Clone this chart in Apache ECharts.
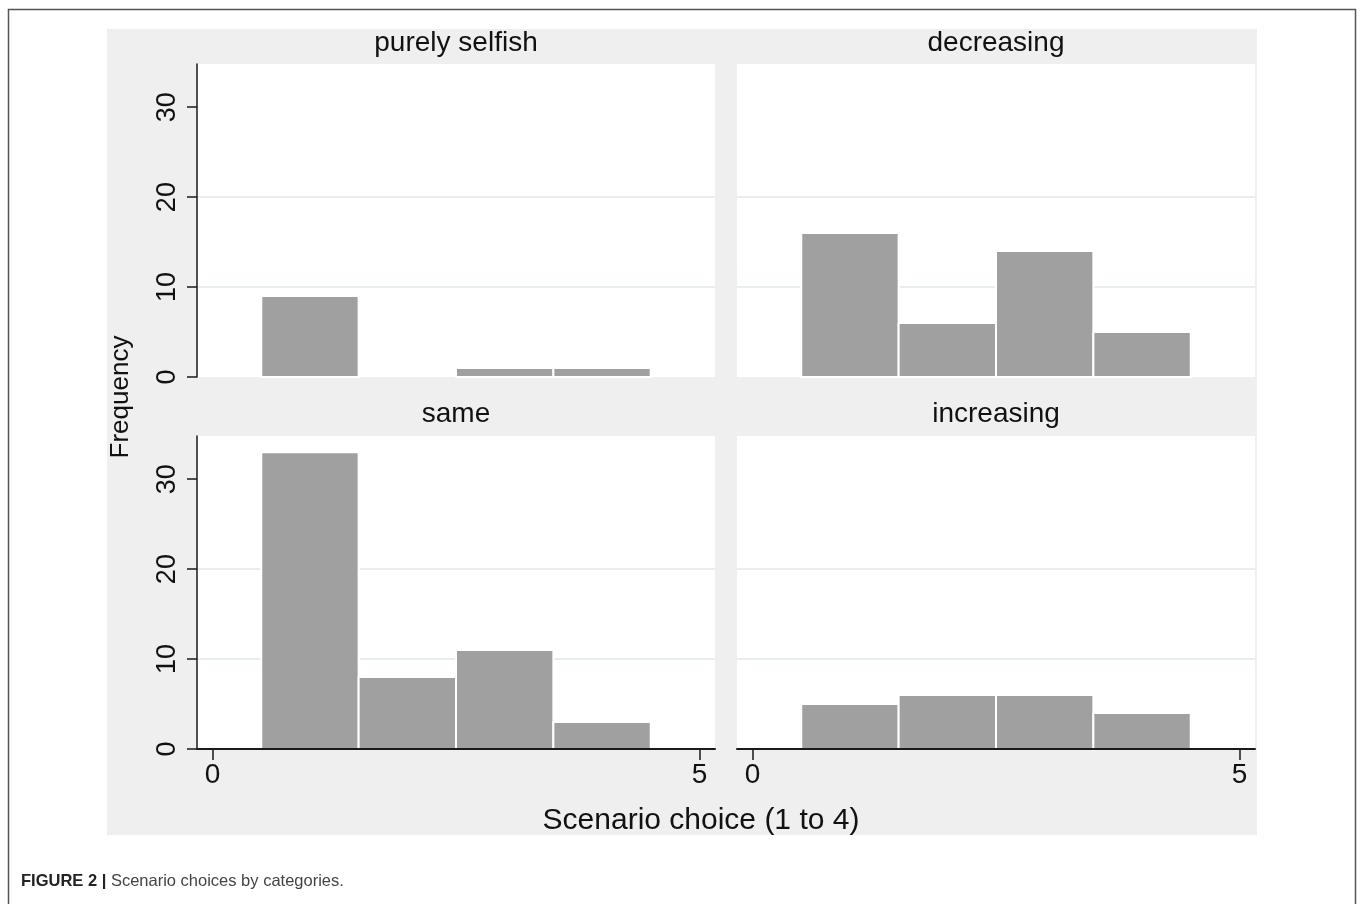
<!DOCTYPE html>
<html><head><meta charset="utf-8">
<script src="https://cdn.jsdelivr.net/npm/echarts@6/dist/echarts.min.js"></script>
<style>html,body{margin:0;padding:0;background:#fff}#c{width:1360px;height:904px}</style>
</head><body><div id="c"></div>
<script>
const panelTitles = ['purely selfish', 'decreasing', 'same', 'increasing'];
const choices = [1, 2, 3, 4];
const selfish = [9, 0, 1, 1];
const decreasing = [16, 6, 14, 5];
const same = [33, 8, 11, 3];
const increasing = [5, 6, 6, 4];
const yTicks = [0, 10, 20, 30];
const xTicks = [0, 5];
const xTitle = 'Scenario choice (1 to 4)';
const yTitle = 'Frequency';
const caption = 'Scenario choices by categories.';

const panelValues = [selfish, decreasing, same, increasing];
const FONT = '"Liberation Sans", Arial, sans-serif';

const grids = [
  {left: 197, top: 64, width: 518, height: 313},
  {left: 737, top: 64, width: 518, height: 313},
  {left: 197, top: 436, width: 518, height: 313},
  {left: 737, top: 436, width: 518, height: 313}
].map(g => Object.assign(g, {show: true, backgroundColor: '#fff', borderWidth: 0, outerBoundsMode: 'none'}));

const xAxes = grids.map((g, i) => {
  const bottom = i >= 2;
  return {
    type: 'value', gridIndex: i, min: -0.16, max: 5.16, z: 5,
    show: bottom,
    axisLine: {show: bottom, onZero: false, lineStyle: {color: '#1a1a1a', width: 2}},
    axisTick: {show: bottom, customValues: xTicks, length: 11, lineStyle: {color: '#1a1a1a', width: 1.5}},
    axisLabel: {show: bottom, customValues: xTicks, margin: 12, fontSize: 28, color: '#111', fontFamily: FONT},
    splitLine: {show: false}
  };
});

const yAxes = grids.map((g, i) => {
  const left = i % 2 === 0;
  return {
    type: 'value', gridIndex: i, min: 0, max: 34.8, interval: 10,
    axisLine: {show: left, onZero: false, lineStyle: {color: '#1a1a1a', width: 1.5}},
    axisTick: {show: left, customValues: yTicks, length: 10, lineStyle: {color: '#1a1a1a', width: 1.5}},
    axisLabel: {show: left, customValues: yTicks, rotate: 90, margin: 16, fontSize: 27, color: '#111', fontFamily: FONT},
    splitLine: {show: true, showMinLine: false, showMaxLine: false, lineStyle: {color: '#dfe9ee', width: 1.5}}
  };
});

function renderBar(params, api) {
  const x = api.value(0), y = api.value(1);
  if (!y) return null;
  const p0 = api.coord([x - 0.5, y]);
  const p1 = api.coord([x + 0.5, 0]);
  return {
    type: 'rect',
    shape: {x: p0[0], y: p0[1], width: p1[0] - p0[0], height: p1[1] - p0[1]},
    style: {fill: '#a0a0a0', stroke: '#ffffff', lineWidth: 2}
  };
}

const series = panelValues.map((vals, i) => ({
  type: 'custom', xAxisIndex: i, yAxisIndex: i, z: 2,
  renderItem: renderBar,
  data: choices.map((c, k) => [c, vals[k]])
}));

const titlePos = [[456, 43], [996, 43], [456, 414], [996, 414]];
const graphics = [
  {type: 'rect', z: -10, shape: {x: 8.5, y: 9.5, width: 1347, height: 930}, style: {fill: '#fff', stroke: '#555', lineWidth: 1.5}},
  {type: 'rect', z: -9, shape: {x: 107, y: 29, width: 1150, height: 806}, style: {fill: '#efefef'}},
  ...panelTitles.map((t, i) => ({
    type: 'text', z: 10, x: titlePos[i][0], y: titlePos[i][1],
    style: {text: t, fontSize: 28, fontFamily: FONT, fill: '#111', align: 'center', verticalAlign: 'middle'}
  })),
  {type: 'text', z: 10, x: 701, y: 821, style: {text: xTitle, fontSize: 30, fontFamily: FONT, fill: '#111', align: 'center', verticalAlign: 'middle'}},
  {type: 'text', z: 10, x: 121, y: 397, rotation: Math.PI / 2, style: {text: yTitle, fontSize: 26, fontFamily: FONT, fill: '#111', align: 'center', verticalAlign: 'middle'}},
  {type: 'text', z: 10, x: 21, y: 881, style: {
    text: '{b|FIGURE 2 |} ' + caption, fontSize: 16.5, fontFamily: FONT, fill: '#444', verticalAlign: 'middle',
    rich: {b: {fontWeight: 'bold', fontSize: 16.5, fontFamily: FONT, fill: '#222'}}
  }}
];

const chart = echarts.init(document.getElementById('c'), null, {renderer: 'canvas'});
chart.setOption({
  backgroundColor: '#fff',
  animation: false,
  grid: grids,
  xAxis: xAxes,
  yAxis: yAxes,
  series: series,
  graphic: graphics
});
</script>
</body></html>
